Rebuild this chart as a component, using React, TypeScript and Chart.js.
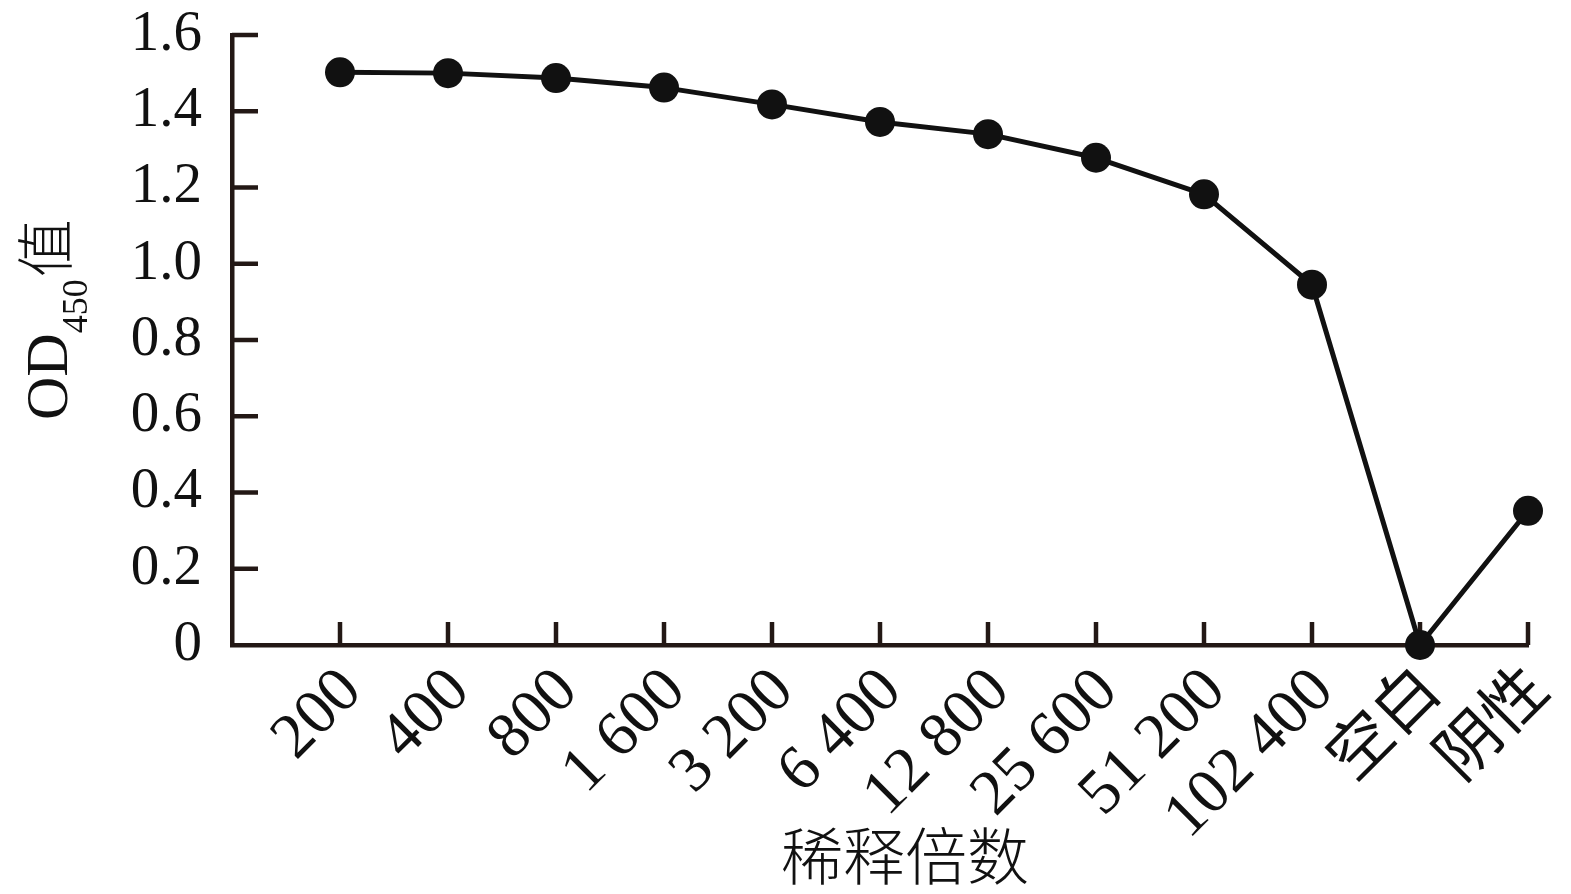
import React, { useEffect, useRef } from "react";
import { Chart, registerables } from "chart.js";

Chart.register(...registerables);

const categories = ["200", "400", "800", "1 600", "3 200", "6 400", "12 800", "25 600", "51 200", "102 400", "空白", "阴性"];
const odValues = [1.502, 1.500, 1.487, 1.462, 1.418, 1.372, 1.340, 1.278, 1.182, 0.945, 0.0, 0.352];
const yTicks = [0, 0.2, 0.4, 0.6, 0.8, 1.0, 1.2, 1.4, 1.6];
const xTitle = "稀释倍数";
const yTitleMain = "OD";
const yTitleSub = "450";
const yTitleTail = "值";

const AXIS = "#231815";
const INK = "#111111";
const SERIF = "'Liberation Serif', 'Noto Sans CJK SC', serif";
const CJK = "'Noto Sans CJK SC', sans-serif";

const decorPlugin = {
  id: "decor",
  afterDraw(chart: any) {
    const ctx = chart.ctx;
    const xs = chart.scales.x;
    const ys = chart.scales.y;
    ctx.save();
    ctx.strokeStyle = AXIS;
    ctx.lineWidth = 4.5;
    yTicks.forEach((v) => {
      if (v === 0) return;
      const py = ys.getPixelForValue(v);
      ctx.beginPath();
      ctx.moveTo(xs.left, py);
      ctx.lineTo(xs.left + 26, py);
      ctx.stroke();
    });
    categories.forEach((_, i) => {
      const px = xs.getPixelForValue(i + 1);
      ctx.beginPath();
      ctx.moveTo(px, ys.bottom);
      ctx.lineTo(px, ys.bottom - 23);
      ctx.stroke();
    });
    ctx.restore();

    const meta = chart.getDatasetMeta(0);
    ctx.save();
    ctx.strokeStyle = INK;
    ctx.lineWidth = 5;
    ctx.lineJoin = "round";
    ctx.beginPath();
    meta.data.forEach((pt: any, i: number) => {
      if (i === 0) ctx.moveTo(pt.x, pt.y);
      else ctx.lineTo(pt.x, pt.y);
    });
    ctx.stroke();
    ctx.fillStyle = INK;
    meta.data.forEach((pt: any) => {
      ctx.beginPath();
      ctx.arc(pt.x, pt.y, 15, 0, Math.PI * 2);
      ctx.fill();
    });
    ctx.restore();

    ctx.save();
    ctx.fillStyle = INK;
    ctx.translate(67, 420);
    ctx.rotate(-Math.PI / 2);
    ctx.textBaseline = "alphabetic";
    ctx.textAlign = "left";
    ctx.font = `60px ${SERIF}`;
    ctx.fillText(yTitleMain, 0, 0);
    let off = ctx.measureText(yTitleMain).width;
    ctx.font = `36px ${SERIF}`;
    ctx.fillText(yTitleSub, off, 20);
    off += ctx.measureText(yTitleSub).width + 2;
    ctx.font = `300 58px ${CJK}`;
    ctx.fillText(yTitleTail, off, 0);
    ctx.restore();

    ctx.save();
    ctx.fillStyle = INK;
    ctx.font = `300 62px ${CJK}`;
    ctx.textAlign = "center";
    ctx.textBaseline = "middle";
    ctx.fillText(xTitle, 905, 856);
    ctx.restore();
  },
};

export default function App() {
  const ref = useRef<HTMLCanvasElement | null>(null);
  useEffect(() => {
    if (!ref.current) return;
    const chart = new Chart(ref.current, {
      type: "line",
      data: {
        datasets: [
          {
            data: odValues.map((v, i) => ({ x: i + 1, y: v })),
            borderColor: "rgba(0,0,0,0)",
            backgroundColor: "rgba(0,0,0,0)",
            pointRadius: 0,
            borderWidth: 0,
            clip: false as any,
          },
        ],
      },
      plugins: [decorPlugin],
      options: {
        responsive: false,
        animation: false,
        devicePixelRatio: 1,
        layout: { padding: { top: 35, right: 43, left: 0, bottom: 0 } },
        plugins: { legend: { display: false }, tooltip: { enabled: false } },
        scales: {
          x: {
            type: "linear",
            min: 0,
            max: 12,
            afterFit: (s: any) => {
              s.height = 249;
              s.paddingLeft = 0;
              s.paddingRight = 0;
              s.paddingTop = 0;
              s.paddingBottom = 0;
            },
            afterBuildTicks: (s: any) => {
              s.ticks = categories.map((_, i) => ({ value: i + 1 }));
            },
            grid: { display: true, drawOnChartArea: false, drawTicks: false, tickLength: 0, color: "rgba(0,0,0,0)" },
            border: { display: true, color: AXIS, width: 4.5 },
            ticks: {
              autoSkip: false,
              maxRotation: 45,
              minRotation: 45,
              padding: 9,
              labelOffset: 12,
              color: INK,
              font: { family: SERIF, size: 64 },
              callback: (v: any) => categories[Math.round(v) - 1] ?? "",
            },
          },
          y: {
            type: "linear",
            min: 0,
            max: 1.6,
            afterFit: (s: any) => {
              s.width = 232;
              s.paddingLeft = 0;
              s.paddingRight = 0;
              s.paddingTop = 0;
              s.paddingBottom = 0;
            },
            afterBuildTicks: (s: any) => {
              s.ticks = yTicks.map((v) => ({ value: v }));
            },
            grid: { display: true, drawOnChartArea: false, drawTicks: false, tickLength: 0, color: "rgba(0,0,0,0)" },
            border: { display: true, color: AXIS, width: 4.5 },
            ticks: {
              padding: 30,
              color: INK,
              font: { family: SERIF, size: 57 },
              callback: (v: any) => (v === 0 ? "0" : Number(v).toFixed(1)),
            },
          },
        },
      },
    });
    return () => chart.destroy();
  }, []);
  return (
    <div style={{ position: "fixed", left: 0, top: 0, width: 1571, height: 894, background: "#fff" }}>
      <canvas ref={ref} width={1571} height={894} style={{ display: "block" }} />
    </div>
  );
}
